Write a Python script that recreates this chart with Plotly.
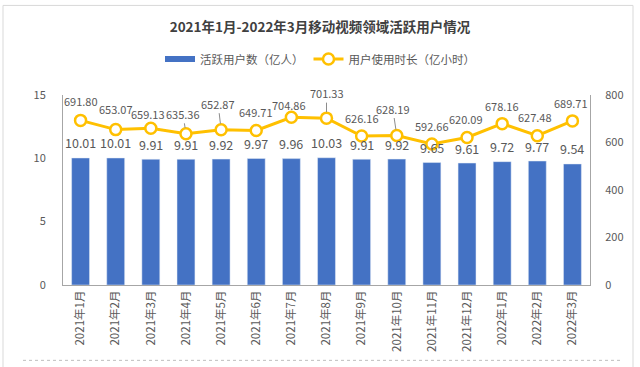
import plotly.graph_objects as go

categories = ["2021年1月", "2021年2月", "2021年3月", "2021年4月", "2021年5月", "2021年6月",
              "2021年7月", "2021年8月", "2021年9月", "2021年10月", "2021年11月", "2021年12月",
              "2022年1月", "2022年2月", "2022年3月"]
active_users = [10.01, 10.01, 9.91, 9.91, 9.92, 9.97, 9.96, 10.03, 9.91, 9.92, 9.65, 9.61, 9.72, 9.77, 9.54]
usage_hours = [691.80, 653.07, 659.13, 635.36, 652.87, 649.71, 704.86, 701.33, 626.16, 628.19,
               592.66, 620.09, 678.16, 627.48, 689.71]

# label offsets (px) for the line labels, and whether a leader line is drawn
line_label_dx = [0, 0, -3, -3, -3, 0, -2, 0, 0, -4, 0, -1, 0, -2, -1]
line_label_dy = [-19, -21, -14, -20, -26, -18, -12, -25, -18, -27, -18, -18, -18, -19, -18]
line_label_leader = [False, False, False, True, True, False, False, True, False, True,
                     False, False, False, False, False]

W, H = 640, 367
ML, MR, MT, MB = 63, 50, 93, 82
PW, PH = W - ML - MR, H - MT - MB

def px_x(px):
    return (px - ML) / PW

def px_y(py):
    return (H - MB - py) / PH

FONT = "Noto Sans CJK SC, Noto Sans, sans-serif"
TXT = "#595959"
BLUE = "#4472C4"
GOLD = "#FFC000"

fig = go.Figure()
fig.add_trace(go.Bar(
    x=categories, y=active_users, name="活跃用户数（亿人）",
    marker=dict(color=BLUE), width=0.51, yaxis="y", showlegend=False,
))
# legend entry for the bars: a wide flat swatch like the reference
fig.add_trace(go.Scatter(
    x=[None], y=[None], name="活跃用户数（亿人）", mode="lines",
    line=dict(color=BLUE, width=6), yaxis="y", showlegend=True,
))
fig.add_trace(go.Scatter(
    x=categories, y=usage_hours, name="用户使用时长（亿小时）", yaxis="y2",
    mode="lines+markers",
    line=dict(color=GOLD, width=3),
    marker=dict(size=11, color="white", line=dict(color=GOLD, width=2.5)),
))

annotations = []
for c, v in zip(categories, active_users):
    annotations.append(dict(
        x=c, y=v, xref="x", yref="y", text=f"{v:.2f}", showarrow=False,
        yanchor="middle", yshift=15, font=dict(family=FONT, size=12.5, color=TXT),
    ))
for c, v, dx, dy, lead in zip(categories, usage_hours, line_label_dx, line_label_dy, line_label_leader):
    annotations.append(dict(
        x=c, y=v, xref="x", yref="y2", text=f"{v:.2f}", showarrow=True,
        ax=dx, ay=dy, axref="pixel", ayref="pixel",
        arrowhead=0, arrowwidth=1, standoff=6,
        arrowcolor="#8c8c8c" if lead else "rgba(0,0,0,0)",
        font=dict(family=FONT, size=11, color=TXT),
    ))

shapes = [
    # outer frame
    dict(type="rect", xref="paper", yref="paper",
         x0=px_x(3), x1=px_x(633), y0=px_y(380), y1=px_y(3),
         line=dict(color="#d9d9d9", width=1), fillcolor="rgba(0,0,0,0)", layer="below"),
    # dotted separator at bottom
    dict(type="line", xref="paper", yref="paper",
         x0=px_x(23), x1=px_x(622), y0=px_y(361), y1=px_y(361),
         line=dict(color="#bfbfbf", width=1, dash="dot")),
]

fig.update_layout(
    width=W, height=H,
    margin=dict(l=ML, r=MR, t=MT, b=MB),
    paper_bgcolor="white", plot_bgcolor="white",
    font=dict(family=FONT, color=TXT),
    title=dict(text="<b>2021年1月-2022年3月移动视频领域活跃用户情况</b>",
               x=0.5, xref="container", xanchor="center",
               y=1 - 27 / H, yref="container", yanchor="middle",
               font=dict(family=FONT, size=13.5, color="#404040")),
    legend=dict(orientation="h", xref="container", yref="container",
                x=0.5, xanchor="center", y=1 - 59 / H, yanchor="middle",
                font=dict(family=FONT, size=11.5, color=TXT),
                itemwidth=30, traceorder="normal", bgcolor="rgba(0,0,0,0)"),
    bargap=0.49,
    xaxis=dict(
        type="category", tickangle=-90, showline=True, linecolor="#a6a6a6", linewidth=1,
        ticks="", showgrid=False, tickfont=dict(family=FONT, size=11.5, color=TXT),
        range=[-0.5, len(categories) - 0.5],
    ),
    yaxis=dict(
        range=[0, 15], dtick=5, showgrid=False, zeroline=False,
        showline=True, linecolor="#a6a6a6", linewidth=1,
        ticks="outside", ticklen=14, tickcolor="rgba(0,0,0,0)",
        tickfont=dict(family=FONT, size=11, color=TXT),
    ),
    yaxis2=dict(
        range=[0, 800], dtick=200, overlaying="y", side="right", showgrid=False, zeroline=False,
        showline=True, linecolor="#a6a6a6", linewidth=1,
        ticks="outside", ticklen=12, tickcolor="rgba(0,0,0,0)",
        tickfont=dict(family=FONT, size=11, color=TXT),
    ),
    annotations=annotations,
    shapes=shapes,
)

fig.write_html("out.html", config={"displayModeBar": False},
               post_script="document.body.style.margin='0';")
